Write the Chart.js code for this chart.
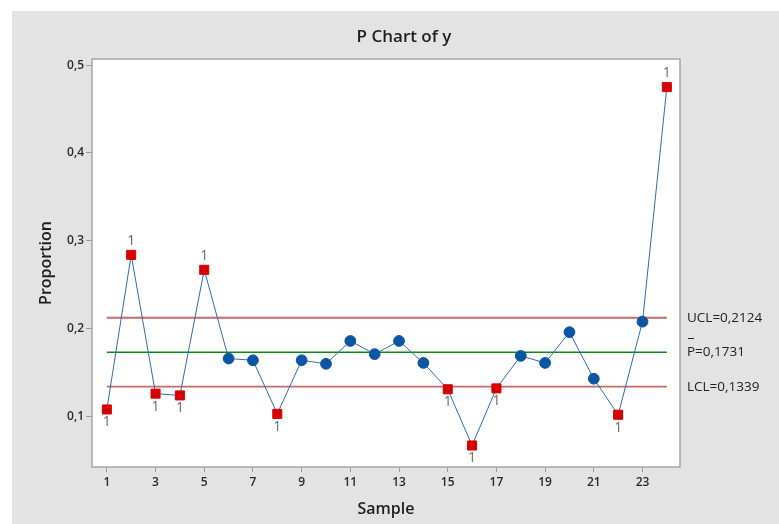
<!DOCTYPE html>
<html lang="en">
<head>
<meta charset="UTF-8">
<title>P Chart of y</title>
<script src="https://cdn.jsdelivr.net/npm/chart.js"></script>
<style>
  html, body { margin: 0; padding: 0; background: #fff; }
  #chart { display: block; }
</style>
</head>
<body>
<canvas id="chart" width="779" height="524"></canvas>
<script>
  // sample numbers and the proportion for each sample
  const samples = [1, 2, 3, 4, 5, 6, 7, 8, 9, 10, 11, 12, 13, 14, 15, 16, 17, 18, 19, 20, 21, 22, 23, 24];
  const proportions = [0.108, 0.284, 0.126, 0.124, 0.267, 0.166, 0.164, 0.103, 0.164, 0.160, 0.186, 0.171,
                       0.186, 0.161, 0.131, 0.067, 0.132, 0.169, 0.161, 0.196, 0.143, 0.102, 0.208, 0.475];

  // control limits
  const UCL = 0.2124;
  const PBAR = 0.1731;
  const LCL = 0.1339;
  const limitSpan = [1, 24];

  const xTicks = [1, 3, 5, 7, 9, 11, 13, 15, 17, 19, 21, 23];
  const yTicks = [0.1, 0.2, 0.3, 0.4, 0.5];

  const FONT = '"Open Sans", "Noto Sans", sans-serif';

  function outOfControl(v) {
    return v > UCL || v < LCL;
  }
  function fmt(v, d) {
    return v.toFixed(d).replace('.', ',');
  }
  function limitLine(value) {
    return limitSpan.map(x => ({ x: x, y: value }));
  }

  const minitabLook = {
    id: 'minitabLook',
    beforeDraw(chart) {
      const ctx = chart.ctx;
      const a = chart.chartArea;
      ctx.save();
      ctx.fillStyle = '#ffffff';
      ctx.fillRect(0, 0, chart.width, chart.height);
      ctx.fillStyle = '#e3e3e3';
      ctx.fillRect(12, 11, chart.width - 12, chart.height - 11);
      ctx.fillStyle = '#ffffff';
      ctx.fillRect(a.left, a.top, a.right - a.left, a.bottom - a.top);
      ctx.restore();
    },
    afterDatasetsDraw(chart) {
      const ctx = chart.ctx;
      const a = chart.chartArea;
      const ys = chart.scales.y;
      ctx.save();

      // frame around the plot
      ctx.strokeStyle = '#a6a6a6';
      ctx.lineWidth = 1.5;
      ctx.strokeRect(a.left, a.top, a.right - a.left, a.bottom - a.top);

      // title
      ctx.fillStyle = '#1e1e1e';
      ctx.font = '600 17px ' + FONT;
      ctx.textAlign = 'center';
      ctx.textBaseline = 'middle';
      ctx.fillText('P Chart of y', 404, 37);

      // test 1 flags
      const meta = chart.getDatasetMeta(0);
      ctx.fillStyle = '#6a6a6a';
      ctx.font = '14px ' + FONT;
      proportions.forEach((v, i) => {
        if (!outOfControl(v)) return;
        const pt = meta.data[i];
        const dy = v > UCL ? -14 : 13;
        ctx.fillText('1', pt.x, pt.y + dy);
      });

      // limit labels on the right
      ctx.fillStyle = '#222';
      ctx.font = '13.5px ' + FONT;
      ctx.textAlign = 'left';
      const lx = a.right + 7;
      ctx.fillText('UCL=' + fmt(UCL, 4), lx, ys.getPixelForValue(UCL));
      ctx.fillText('P=' + fmt(PBAR, 4), lx, ys.getPixelForValue(PBAR));
      ctx.fillText('LCL=' + fmt(LCL, 4), lx, ys.getPixelForValue(LCL));
      ctx.strokeStyle = '#222';
      ctx.lineWidth = 1;
      const by = Math.round(ys.getPixelForValue(PBAR)) - 13.5;
      ctx.beginPath();
      ctx.moveTo(lx + 1, by);
      ctx.lineTo(lx + 7, by);
      ctx.stroke();
      ctx.restore();
    }
  };

  new Chart(document.getElementById('chart'), {
    type: 'line',
    data: {
      datasets: [
        {
          label: 'Proportion',
          data: samples.map((s, i) => ({ x: s, y: proportions[i] })),
          borderColor: '#2e6cb5',
          borderWidth: 1,
          tension: 0,
          pointStyle: c => (c.raw && outOfControl(c.raw.y)) ? 'rect' : 'circle',
          pointRadius: c => (c.raw && outOfControl(c.raw.y)) ? 6.4 : 5.4,
          pointBackgroundColor: c => (c.raw && outOfControl(c.raw.y)) ? '#d60000' : '#0b56a4',
          pointBorderColor: c => (c.raw && outOfControl(c.raw.y)) ? '#d60000' : '#0b56a4',
          pointBorderWidth: 1
        },
        { label: 'UCL', data: limitLine(UCL), borderColor: '#c26b69', borderWidth: 1.8, pointRadius: 0 },
        { label: 'P', data: limitLine(PBAR), borderColor: '#0a8a14', borderWidth: 1.6, pointRadius: 0 },
        { label: 'LCL', data: limitLine(LCL), borderColor: '#c26b69', borderWidth: 1.8, pointRadius: 0 }
      ]
    },
    options: {
      responsive: false,
      devicePixelRatio: 1,
      animation: false,
      layout: { padding: { top: 59, right: 99, left: 0, bottom: 0 } },
      plugins: {
        legend: { display: false },
        tooltip: { enabled: false },
        title: { display: false }
      },
      scales: {
        x: {
          type: 'linear',
          min: 0.39,
          max: 24.54,
          afterBuildTicks: s => { s.ticks = xTicks.map(v => ({ value: v })); },
          afterFit: s => { s.height = 57; },
          grid: { drawOnChartArea: false, tickLength: 5, color: '#9a9a9a' },
          border: { display: false },
          ticks: { font: { family: FONT, size: 12, weight: '600' }, color: '#2a2a2a', padding: 3, maxRotation: 0, autoSkip: false },
          title: { display: true, text: 'Sample', font: { family: FONT, size: 16, weight: '600' }, color: '#1e1e1e', padding: { top: 0, bottom: 5 } }
        },
        y: {
          type: 'linear',
          min: 0.0425,
          max: 0.507,
          afterBuildTicks: s => { s.ticks = yTicks.map(v => ({ value: v })); },
          afterFit: s => { s.width = 92; },
          grid: { drawOnChartArea: false, tickLength: 6, color: '#9a9a9a' },
          border: { display: false },
          ticks: { font: { family: FONT, size: 12, weight: '600' }, color: '#2a2a2a', padding: 2, callback: v => fmt(v, 1) },
          title: { display: true, text: 'Proportion', font: { family: FONT, size: 16, weight: '600' }, color: '#1e1e1e', padding: { top: 37, bottom: 0 } }
        }
      }
    },
    plugins: [minitabLook]
  });
</script>
</body>
</html>
